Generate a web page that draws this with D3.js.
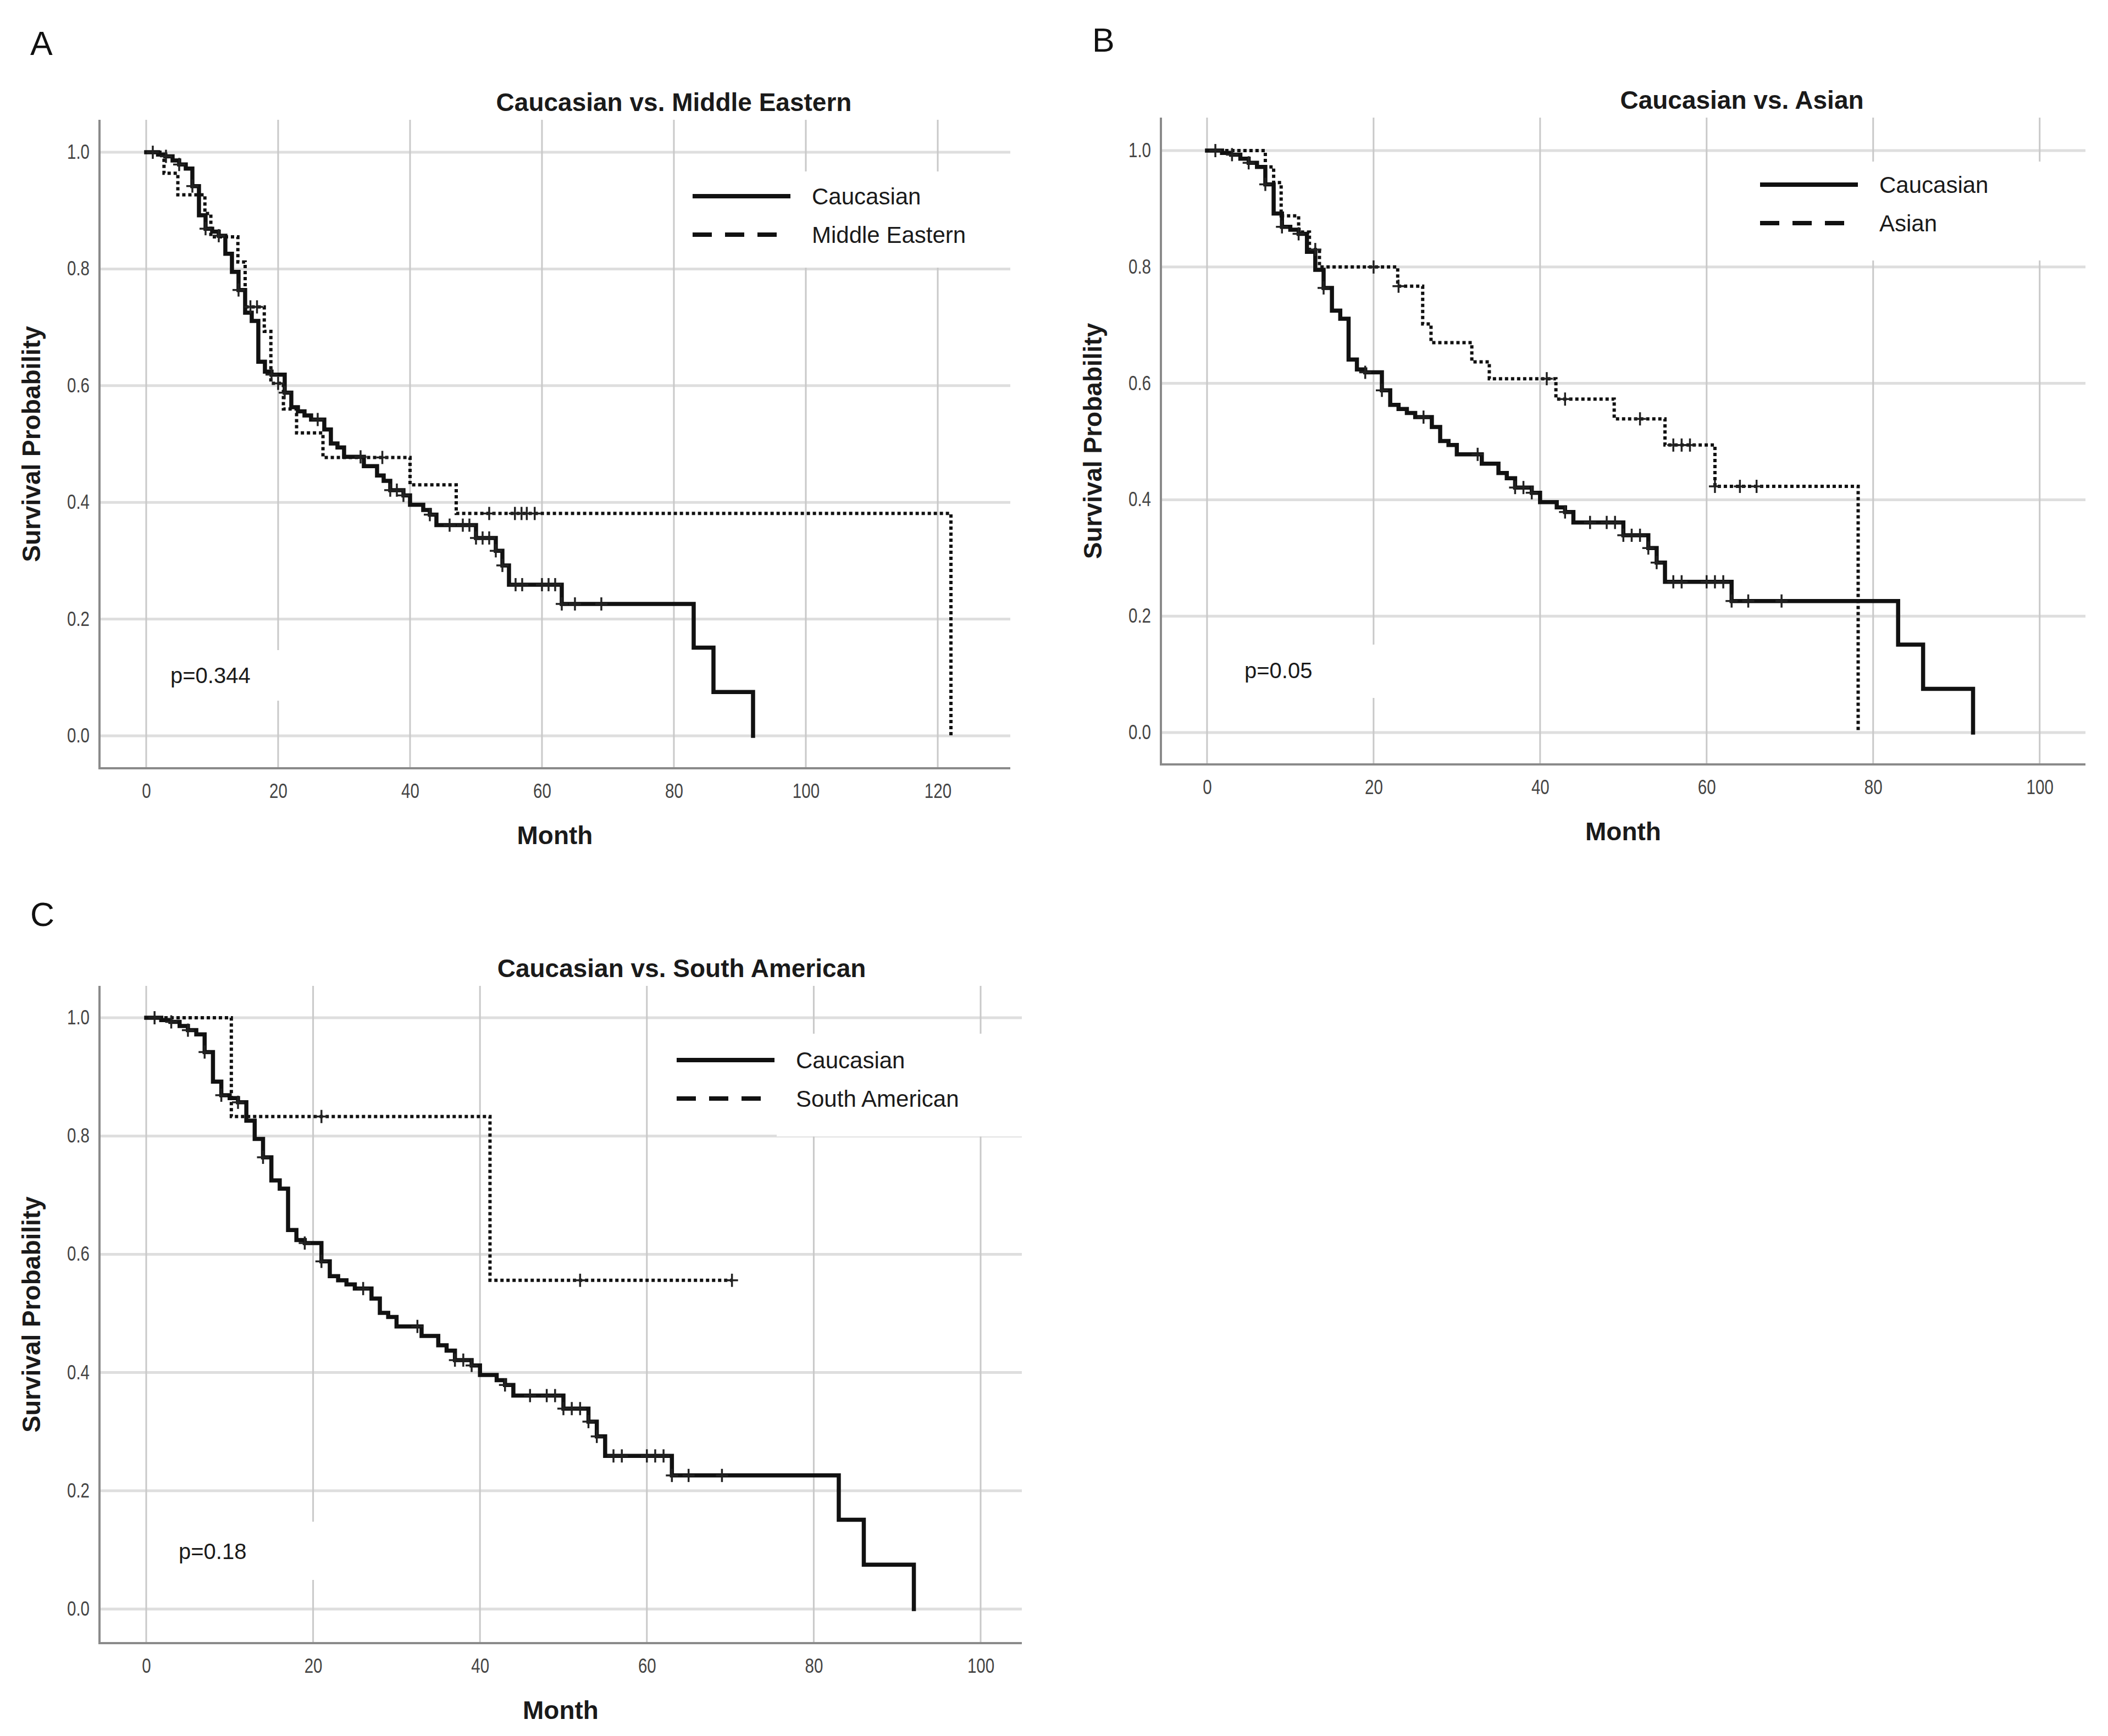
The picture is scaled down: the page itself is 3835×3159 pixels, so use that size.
<!doctype html>
<html>
<head>
<meta charset="utf-8">
<title>Kaplan-Meier: Caucasian vs. other groups</title>
<style>
  body { margin: 0; background: #fff; }
  svg text { font-family: "Liberation Sans", Arial, sans-serif; }
</style>
<script src="https://cdnjs.cloudflare.com/ajax/libs/d3/7.8.5/d3.min.js"></script>
</head>
<body>
<div id="chart"></div>
<script>
// tick labels
const monthTicksA = [0, 20, 40, 60, 80, 100, 120];
const monthTicksBC = [0, 20, 40, 60, 80, 100];
const survTicks = [0, 0.2, 0.4, 0.6, 0.8, 1.0];

// texts
const panelLetters = ["A", "B", "C"];
const titles = ["Caucasian vs. Middle Eastern", "Caucasian vs. Asian", "Caucasian vs. South American"];
const groupNames = ["Middle Eastern", "Asian", "South American"];
const pValues = ["p=0.344", "p=0.05", "p=0.18"];

// Caucasian curve (same in every panel): event months and survival after each step
const caucasianTime = [0, 1.8, 2.9, 4, 5, 6, 7, 8, 9, 10, 11, 12, 13, 14, 15, 16, 17, 18, 19, 21,
  22, 23, 24, 25, 27, 28, 29, 30, 33, 35, 36, 37, 39, 40, 42, 43, 44, 50, 53, 54, 55, 63, 83, 86, 92];
const caucasianSurv = [1, 0.996, 0.993, 0.986, 0.979, 0.972, 0.942, 0.892, 0.869, 0.864, 0.857, 0.826,
  0.795, 0.764, 0.725, 0.711, 0.641, 0.624, 0.619, 0.588, 0.563, 0.556, 0.549, 0.542, 0.525, 0.501,
  0.494, 0.478, 0.462, 0.446, 0.437, 0.421, 0.412, 0.396, 0.387, 0.379, 0.361, 0.339, 0.317, 0.292,
  0.259, 0.226, 0.151, 0.075, 0];
const caucasianCensor = [1, 3, 5, 7, 9, 11, 14, 19, 21, 26, 32.5, 37, 38, 39, 43, 46, 48, 49, 50, 51,
  52, 53, 54, 56, 57, 60, 61, 62, 63, 65, 69];

// Middle Eastern
const middleEasternTime = [0, 2.7, 4.8, 8.9, 9.8, 13.9, 15, 17.9, 18.9, 20.8, 22.8, 26.8, 40, 47, 122];
const middleEasternSurv = [1, 0.964, 0.927, 0.895, 0.855, 0.812, 0.735, 0.693, 0.604, 0.56, 0.519, 0.477, 0.43, 0.381, 0];
const middleEasternCensor = [15.8, 16.8, 20, 35.8, 52, 55.9, 56.9, 57.7, 58.9];

// Asian
const asianTime = [0, 7, 8, 8.9, 11, 12.3, 13.5, 22.9, 25.9, 26.9, 31.8, 33.9, 41.9, 48.9, 55, 61, 78.2];
const asianSurv = [1, 0.972, 0.945, 0.888, 0.86, 0.83, 0.8, 0.767, 0.702, 0.67, 0.637, 0.608, 0.573, 0.539, 0.494, 0.423, 0];
const asianCensor = [13, 20, 23, 40.8, 43, 52, 56, 57, 58, 61, 64, 66];

// South American
const southAmericanTime = [0, 10.2, 41.2];
const southAmericanSurv = [1, 0.833, 0.556];
const southAmericanCensor = [21, 52, 70.2];

const svg = d3.select("#chart").append("svg")
  .attr("width", 3835).attr("height", 3159)
  .style("display", "block");

// panel layout (pixels) - data come from the arrays above
const panels = [
  { left: 181, right: 1838, top: 218, bottom: 1398, xDomain: [-7.08, 131], yDomain: [-0.0556, 1.0556],
    xTicks: monthTicksA, letterX: 55, letterY: 100, titleX: 1226,
    legendBox: [1240, 312, 1838, 487], legendX: 1260, legendY: 357,
    pBox: [290, 1183, 520, 1275], pX: 310, pY: 1243,
    other: { time: middleEasternTime, surv: middleEasternSurv, censor: middleEasternCensor } },
  { left: 2112, right: 3794, top: 214, bottom: 1391, xDomain: [-5.54, 105.5], yDomain: [-0.0548, 1.0567],
    xTicks: monthTicksBC, letterX: 1987, letterY: 94, titleX: 3169,
    legendBox: [3150, 294, 3794, 474], legendX: 3202, legendY: 336,
    pBox: [2245, 1173, 2520, 1270], pX: 2264, pY: 1234,
    other: { time: asianTime, surv: asianSurv, censor: asianCensor } },
  { left: 181, right: 1859, top: 1794, bottom: 2990, xDomain: [-5.6, 104.94], yDomain: [-0.0576, 1.0539],
    xTicks: monthTicksBC, letterX: 55, letterY: 1685, titleX: 1240,
    legendBox: [1413, 1881, 1859, 2068], legendX: 1231, legendY: 1929,
    pBox: [290, 2769, 585, 2875], pX: 325, pY: 2837,
    other: { time: southAmericanTime, surv: southAmericanSurv, censor: southAmericanCensor } }
];

const caucasian = { time: caucasianTime, surv: caucasianSurv, censor: caucasianCensor };

// survival value at month t (step function)
function survAt(series, t) {
  const i = d3.bisectRight(series.time, t) - 1;
  return series.surv[Math.max(0, i)];
}

function stepPoints(series) {
  const pts = series.time.map((t, i) => [t, series.surv[i]]);
  const lastT = series.time[series.time.length - 1];
  const maxC = d3.max(series.censor);
  if (maxC > lastT) pts.push([maxC, series.surv[series.surv.length - 1]]);
  return pts;
}

panels.forEach(function(p, k) {
  const x = d3.scaleLinear().domain(p.xDomain).range([p.left, p.right]);
  const y = d3.scaleLinear().domain(p.yDomain).range([p.bottom, p.top]);
  const g = svg.append("g");

  // grid
  g.selectAll(".hgrid").data(survTicks).join("line")
    .attr("x1", p.left).attr("x2", p.right)
    .attr("y1", d => y(d)).attr("y2", d => y(d))
    .attr("stroke", "#dedede").attr("stroke-width", 5);
  g.selectAll(".vgrid").data(p.xTicks).join("line")
    .attr("x1", d => x(d)).attr("x2", d => x(d))
    .attr("y1", p.top).attr("y2", p.bottom)
    .attr("stroke", "#c9c9c9").attr("stroke-width", 3);

  // white boxes behind legend and p value
  [p.legendBox, p.pBox].forEach(function(b) {
    g.append("rect").attr("x", b[0]).attr("y", b[1])
      .attr("width", b[2] - b[0]).attr("height", b[3] - b[1]).attr("fill", "#fff");
  });

  // axes
  const yAxis = g.append("g").attr("transform", `translate(${p.left},0)`)
    .call(d3.axisLeft(y).tickValues(survTicks).tickFormat(d3.format(".1f")).tickSize(0).tickPadding(18));
  const xAxis = g.append("g").attr("transform", `translate(0,${p.bottom})`)
    .call(d3.axisBottom(x).tickValues(p.xTicks).tickSize(0).tickPadding(22));
  [yAxis, xAxis].forEach(function(a) {
    a.select(".domain").remove();
    a.selectAll("text")
      .style("font-family", '"Liberation Sans", Arial, sans-serif')
      .style("font-size", "36px").attr("fill", "#444")
      .each(function() {
        // the original tick labels are set in a narrow face
        const w = this.getComputedTextLength();
        d3.select(this).attr("textLength", w * 0.82).attr("lengthAdjust", "spacingAndGlyphs");
      });
  });
  xAxis.selectAll("text").attr("dy", "0.9em");

  g.append("line").attr("x1", p.left).attr("x2", p.left).attr("y1", p.top).attr("y2", p.bottom + 2)
    .attr("stroke", "#8a8a8a").attr("stroke-width", 4);
  g.append("line").attr("x1", p.left - 2).attr("x2", p.right).attr("y1", p.bottom).attr("y2", p.bottom)
    .attr("stroke", "#8a8a8a").attr("stroke-width", 4);

  // curves
  const line = d3.line().x(d => x(d[0])).y(d => y(d[1])).curve(d3.curveStepAfter);
  g.append("path").datum(stepPoints(p.other)).attr("d", line)
    .attr("fill", "none").attr("stroke", "#111").attr("stroke-width", 6)
    .attr("stroke-dasharray", "6,5");
  g.append("path").datum(stepPoints(caucasian)).attr("d", line)
    .attr("fill", "none").attr("stroke", "#111").attr("stroke-width", 7.5)
    .attr("stroke-linejoin", "miter").attr("stroke-linecap", "square");

  // censor marks
  [p.other, caucasian].forEach(function(s) {
    const cg = g.append("g");
    s.censor.forEach(function(t) {
      const cx = x(t), cy = y(survAt(s, t));
      cg.append("line").attr("x1", cx).attr("x2", cx).attr("y1", cy - 12).attr("y2", cy + 12)
        .attr("stroke", "#222").attr("stroke-width", 3.5);
      cg.append("line").attr("x1", cx - 11).attr("x2", cx + 11).attr("y1", cy).attr("y2", cy)
        .attr("stroke", "#222").attr("stroke-width", 3.5);
    });
  });

  // legend
  const legendNames = ["Caucasian", groupNames[k]];
  g.append("line").attr("x1", p.legendX).attr("x2", p.legendX + 178)
    .attr("y1", p.legendY).attr("y2", p.legendY)
    .attr("stroke", "#111").attr("stroke-width", 8);
  g.append("line").attr("x1", p.legendX).attr("x2", p.legendX + 153)
    .attr("y1", p.legendY + 70).attr("y2", p.legendY + 70)
    .attr("stroke", "#111").attr("stroke-width", 8).attr("stroke-dasharray", "35,24");
  g.selectAll(".legtext").data(legendNames).join("text")
    .attr("x", p.legendX + 217).attr("y", (d, i) => p.legendY + 15 + i * 70)
    .style("font-size", "42px").attr("fill", "#1a1a1a").text(d => d);

  // p value
  g.append("text").attr("x", p.pX).attr("y", p.pY)
    .style("font-size", "40px").attr("fill", "#1a1a1a").text(pValues[k]);

  // titles and axis labels
  g.append("text").attr("x", p.titleX).attr("y", p.top - 16).attr("text-anchor", "middle")
    .style("font-size", "46px").style("font-weight", "bold").attr("fill", "#1a1a1a").text(titles[k]);
  g.append("text").attr("x", (p.left + p.right) / 2).attr("y", p.bottom + 138).attr("text-anchor", "middle")
    .style("font-size", "46px").style("font-weight", "bold").attr("fill", "#1a1a1a").text("Month");
  g.append("text")
    .attr("transform", `translate(${p.left - 108},${(p.top + p.bottom) / 2}) rotate(-90)`)
    .attr("text-anchor", "middle")
    .style("font-size", "46px").style("font-weight", "bold").attr("fill", "#1a1a1a").text("Survival Probability");

  // panel letter
  svg.append("text").attr("x", p.letterX).attr("y", p.letterY)
    .style("font-size", "61px").attr("fill", "#111").text(panelLetters[k]);
});
</script>
</body>
</html>
